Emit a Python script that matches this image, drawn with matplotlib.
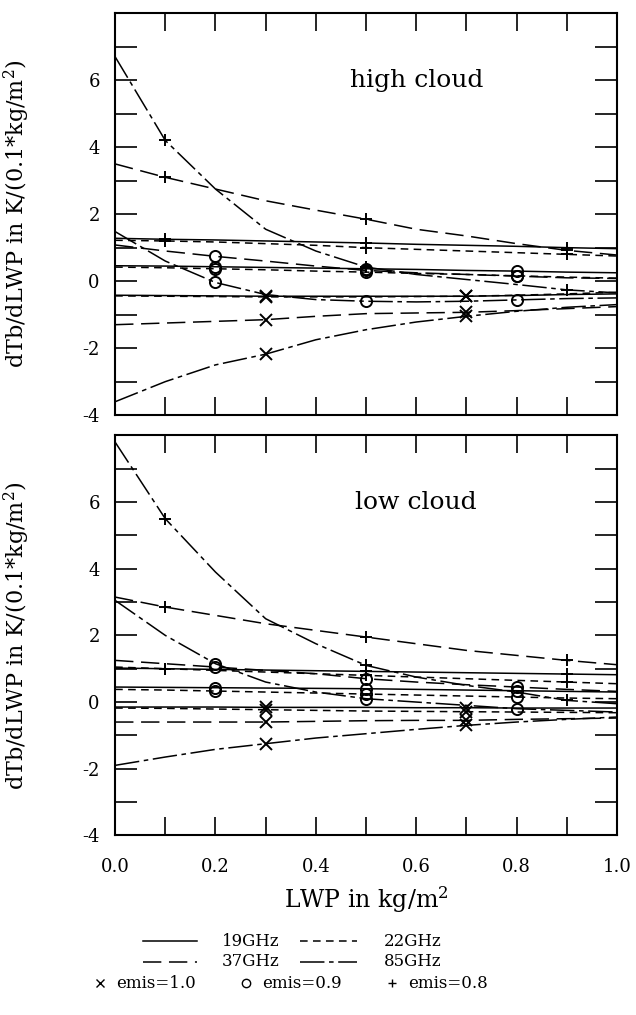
import matplotlib.pyplot as plt
from matplotlib.lines import Line2D

plt.rcParams['font.family'] = 'DejaVu Serif'
plt.rcParams['mathtext.fontset'] = 'dejavuserif'

# LWP grid (kg/m2)
lwp = [0.0, 0.1, 0.2, 0.3, 0.4, 0.5, 0.6, 0.7, 0.8, 0.9, 1.0]

# high cloud: dTb/dLWP per channel and surface emissivity
high_19_e10 = [-0.42, -0.43, -0.44, -0.45, -0.45, -0.45, -0.45, -0.45, -0.43, -0.40, -0.38]
high_19_e09 = [0.46, 0.45, 0.43, 0.41, 0.39, 0.37, 0.35, 0.32, 0.30, 0.27, 0.25]
high_19_e08 = [1.28, 1.25, 1.23, 1.20, 1.17, 1.14, 1.10, 1.07, 1.04, 1.00, 0.97]
high_22_e10 = [-0.44, -0.45, -0.46, -0.47, -0.47, -0.47, -0.46, -0.45, -0.42, -0.38, -0.33]
high_22_e09 = [0.42, 0.40, 0.37, 0.34, 0.30, 0.27, 0.23, 0.20, 0.16, 0.12, 0.09]
high_22_e08 = [1.22, 1.20, 1.17, 1.12, 1.07, 1.00, 0.95, 0.90, 0.85, 0.80, 0.75]
high_37_e10 = [-1.30, -1.25, -1.20, -1.15, -1.05, -0.97, -0.95, -0.93, -0.88, -0.82, -0.76]
high_37_e09 = [1.08, 0.90, 0.74, 0.60, 0.45, 0.32, 0.25, 0.20, 0.15, 0.10, 0.08]
high_37_e08 = [3.50, 3.10, 2.75, 2.40, 2.12, 1.85, 1.55, 1.35, 1.12, 0.92, 0.78]
high_85_e10 = [-3.60, -3.00, -2.50, -2.18, -1.75, -1.45, -1.22, -1.05, -0.90, -0.78, -0.70]
high_85_e09 = [1.48, 0.60, -0.04, -0.40, -0.55, -0.60, -0.62, -0.60, -0.56, -0.52, -0.50]
high_85_e08 = [6.70, 4.20, 2.75, 1.55, 0.90, 0.42, 0.20, 0.05, -0.10, -0.26, -0.35]

# low cloud
low_19_e10 = [-0.15, -0.15, -0.15, -0.16, -0.16, -0.16, -0.17, -0.17, -0.18, -0.18, -0.18]
low_19_e09 = [0.45, 0.44, 0.43, 0.42, 0.41, 0.40, 0.38, 0.36, 0.34, 0.32, 0.30]
low_19_e08 = [1.02, 1.00, 0.98, 0.96, 0.94, 0.92, 0.90, 0.88, 0.86, 0.84, 0.82]
low_22_e10 = [-0.18, -0.19, -0.21, -0.23, -0.25, -0.27, -0.28, -0.29, -0.30, -0.31, -0.32]
low_22_e09 = [0.38, 0.36, 0.33, 0.30, 0.27, 0.24, 0.21, 0.18, 0.15, 0.12, 0.10]
low_22_e08 = [1.05, 1.00, 0.95, 0.90, 0.85, 0.80, 0.75, 0.70, 0.65, 0.60, 0.55]
low_37_e10 = [-0.60, -0.60, -0.60, -0.60, -0.58, -0.56, -0.55, -0.55, -0.52, -0.50, -0.48]
low_37_e09 = [1.25, 1.15, 1.05, 0.95, 0.85, 0.70, 0.60, 0.52, 0.45, 0.38, 0.32]
low_37_e08 = [3.15, 2.85, 2.60, 2.35, 2.15, 1.95, 1.75, 1.55, 1.40, 1.25, 1.12]
low_85_e10 = [-1.90, -1.65, -1.42, -1.25, -1.08, -0.95, -0.82, -0.70, -0.60, -0.52, -0.45]
low_85_e09 = [3.05, 2.00, 1.15, 0.60, 0.30, 0.10, 0.00, -0.10, -0.20, -0.25, -0.30]
low_85_e08 = [7.80, 5.50, 3.90, 2.50, 1.75, 1.10, 0.75, 0.50, 0.30, 0.05, -0.05]

channels = ['19GHz', '22GHz', '37GHz', '85GHz']
emis = [1.0, 0.9, 0.8]
high = {('19GHz', 1.0): high_19_e10, ('19GHz', 0.9): high_19_e09, ('19GHz', 0.8): high_19_e08,
        ('22GHz', 1.0): high_22_e10, ('22GHz', 0.9): high_22_e09, ('22GHz', 0.8): high_22_e08,
        ('37GHz', 1.0): high_37_e10, ('37GHz', 0.9): high_37_e09, ('37GHz', 0.8): high_37_e08,
        ('85GHz', 1.0): high_85_e10, ('85GHz', 0.9): high_85_e09, ('85GHz', 0.8): high_85_e08}
low = {('19GHz', 1.0): low_19_e10, ('19GHz', 0.9): low_19_e09, ('19GHz', 0.8): low_19_e08,
       ('22GHz', 1.0): low_22_e10, ('22GHz', 0.9): low_22_e09, ('22GHz', 0.8): low_22_e08,
       ('37GHz', 1.0): low_37_e10, ('37GHz', 0.9): low_37_e09, ('37GHz', 0.8): low_37_e08,
       ('85GHz', 1.0): low_85_e10, ('85GHz', 0.9): low_85_e09, ('85GHz', 0.8): low_85_e08}

styles = {'19GHz': '-', '22GHz': (0, (5, 3.5)), '37GHz': (0, (12, 5)),
          '85GHz': (0, (16, 3, 3, 3))}
markers = {1.0: 'x', 0.9: 'o', 0.8: '+'}
mark_at = {1.0: [3, 7], 0.9: [2, 5, 8], 0.8: [1, 5, 9]}

fig = plt.figure(figsize=(6.36, 10.15), dpi=100)
ax1 = fig.add_axes([0.181, 0.591, 0.789, 0.396])
ax2 = fig.add_axes([0.181, 0.177, 0.789, 0.394])

ylab = r'dTb/dLWP in K/(0.1*kg/m$^2$)'
for ax, data, title in [(ax1, high, 'high cloud'), (ax2, low, 'low cloud')]:
    for ch in channels:
        for e in emis:
            ax.plot(lwp, data[(ch, e)], color='black', lw=1.1, linestyle=styles[ch],
                    marker=markers[e], markevery=mark_at[e], markersize=8,
                    markerfacecolor='none', markeredgewidth=1.4)
    ax.set_xlim(0, 1)
    ax.set_ylim(-4, 8)
    ax.set_xticks([0.0, 0.1, 0.2, 0.3, 0.4, 0.5, 0.6, 0.7, 0.8, 0.9, 1.0])
    ax.set_yticks(range(-4, 9))
    ax.set_yticklabels([str(v) if v % 2 == 0 and v < 8 else '' for v in range(-4, 9)])
    ax.tick_params(axis='y', direction='in', length=16, width=1.2, left=True, right=True,
                   labelsize=13, pad=11)
    ax.tick_params(axis='x', direction='in', length=13, width=1.2, top=True, bottom=True,
                   labelsize=13, pad=16)
    for s in ax.spines.values():
        s.set_linewidth(1.5)
    ax.text(0.6, 6.0, title, fontsize=18, ha='center', va='center')
    ax.set_ylabel(ylab, fontsize=16)
    ax.yaxis.set_label_coords(-0.165, 0.5)

ax1.set_xticklabels([])
ax2.set_xticklabels(['0.0', '', '0.2', '', '0.4', '', '0.6', '', '0.8', '', '1.0'])
ax2.set_xlabel(r'LWP in kg/m$^2$', fontsize=17, labelpad=6)

# legend below the panels
def fx(px):
    return px / 636.0

def fy(py):
    return 1 - py / 1015.0

rows = [(941, [('19GHz', 143, 197, 222), ('22GHz', 300, 357, 384)]),
        (962, [('37GHz', 143, 197, 222), ('85GHz', 300, 357, 384)])]
for py, entries in rows:
    for ch, x0, x1, xt in entries:
        fig.add_artist(Line2D([fx(x0), fx(x1)], [fy(py), fy(py)], color='black', lw=1.1,
                              linestyle=styles[ch], transform=fig.transFigure))
        fig.text(fx(xt), fy(py), ch, fontsize=12, va='center', ha='left')

for e, xm in [(1.0, 100), (0.9, 246), (0.8, 392)]:
    fig.add_artist(Line2D([fx(xm)], [fy(983)], color='black', marker=markers[e],
                          markersize=6, markerfacecolor='none', markeredgewidth=1.0,
                          transform=fig.transFigure))
    fig.text(fx(xm + 16), fy(983), 'emis=%.1f' % e, fontsize=12, va='center', ha='left')

fig.savefig('out.png', dpi=100)
